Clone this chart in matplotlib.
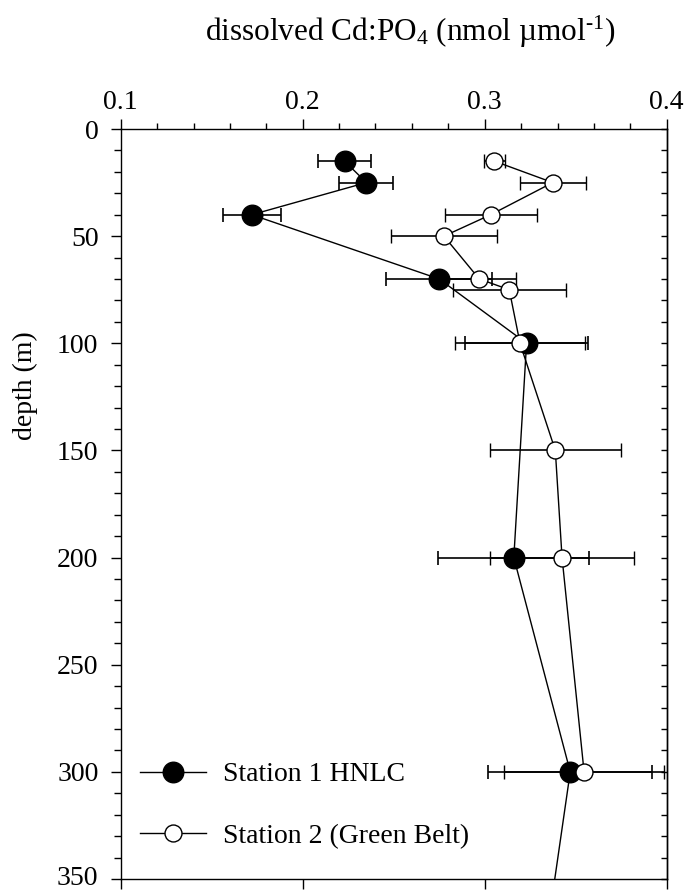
import matplotlib
matplotlib.use("Agg")
import matplotlib.pyplot as plt
import matplotlib.transforms as mtransforms
from matplotlib.ticker import MultipleLocator
from matplotlib.lines import Line2D

plt.rcParams['font.family'] = ['Liberation Serif', 'DejaVu Serif']
plt.rcParams['mathtext.fontset'] = 'custom'
plt.rcParams['mathtext.rm'] = 'Liberation Serif'
plt.rcParams['mathtext.it'] = 'Liberation Serif:italic'

# Station 1 HNLC
depth1 = [15, 25, 40, 70, 100, 200, 300, 400]
cd1 = [0.223, 0.235, 0.172, 0.275, 0.323, 0.316, 0.347, 0.330]
err1 = [0.0147, 0.0148, 0.016, 0.029, 0.034, 0.0414, 0.045, 0.0]

# Station 2 (Green Belt)
depth2 = [15, 25, 40, 50, 70, 75, 100, 150, 200, 300]
cd2 = [0.3053, 0.3374, 0.3033, 0.2776, 0.2970, 0.3135, 0.3194, 0.3388, 0.3425, 0.3546]
err2 = [0.0059, 0.018, 0.0253, 0.029, 0.0203, 0.031, 0.0356, 0.0361, 0.0396, 0.044]

labels = ["Station 1 HNLC", "Station 2 (Green Belt)"]
xticks = [0.1, 0.2, 0.3, 0.4]
yticks = [0, 50, 100, 150, 200, 250, 300, 350]

fig = plt.figure(figsize=(6.86, 8.90), dpi=100)
ax = fig.add_axes([120.7/686, 1-879/890, 546/686, 750/890])

fs = 20
ms1, ms2 = 14.8, 12.2
ax.errorbar(cd1, depth1, xerr=err1, fmt='-o', color='black', lw=1.0,
            elinewidth=1.2, capsize=4.7, capthick=1.2,
            ms=ms1, mfc='black', mec='black', zorder=3)
ax.errorbar(cd2, depth2, xerr=err2, fmt='-o', color='black', lw=1.0,
            elinewidth=1.2, capsize=4.7, capthick=1.2,
            ms=ms2, mfc='white', mec='black', mew=1.0, zorder=4)

ax.set_xlim(0.1, 0.4)
ax.set_ylim(350, 0)
ax.set_xticks(xticks)
ax.set_xticklabels([f"{t:.1f}" for t in xticks])
ax.set_yticks(yticks)
ax.set_yticklabels([str(t) for t in yticks])
ax.xaxis.set_minor_locator(MultipleLocator(0.02))
ax.yaxis.set_minor_locator(MultipleLocator(10))

ax.tick_params(axis='x', which='major', top=True, bottom=True, labeltop=True, labelbottom=False,
               direction='out', length=7, width=1.0, labelsize=fs, pad=3)
ax.tick_params(axis='x', which='minor', top=True, bottom=False, direction='out', length=4, width=1.0)
ax.tick_params(axis='y', which='major', left=True, right=False, direction='out', length=7, width=1.0,
               labelsize=fs, pad=9)
ax.tick_params(axis='y', which='minor', left=True, right=False, direction='out', length=5, width=1.0)

# nudge the bottom-most depth label up slightly so it stays inside the figure
last = ax.get_yticklabels()[-1]
last.set_transform(last.get_transform() + mtransforms.ScaledTranslation(0, 3/100, fig.dpi_scale_trans))

# right-side inward ticks
axr = ax.secondary_yaxis('right')
axr.set_yticks([])
axr.yaxis.set_minor_locator(MultipleLocator(10))
axr.tick_params(axis='y', which='minor', direction='in', length=4, width=1.0)
axr.tick_params(axis='y', which='major', length=0, labelright=False)

for s in ax.spines.values():
    s.set_linewidth(1.0)
axr.spines['right'].set_linewidth(1.0)

h1 = Line2D([], [], color='black', lw=1.0, marker='o', ms=ms1, mfc='black', mec='black')
h2 = Line2D([], [], color='black', lw=1.0, marker='o', ms=ms2, mfc='white', mec='black', mew=1.0)
ax.legend(handles=[h1, h2], labels=labels, loc='lower left',
          bbox_to_anchor=(0.035, 0.04), borderaxespad=0, borderpad=0,
          frameon=False, fontsize=fs, handlelength=2.37, handletextpad=0.61,
          labelspacing=1.3)

fig.text(410/686, 1-41/890, "dissolved Cd:PO$_4$ (nmol \u00b5mol$^{\\text{-}1}$)",
         ha='center', va='baseline', fontsize=22.5)
fig.text(25/686, 504/890, "depth (m)", rotation=90, ha='center', va='center', fontsize=fs)

fig.savefig("out.png", dpi=100)
